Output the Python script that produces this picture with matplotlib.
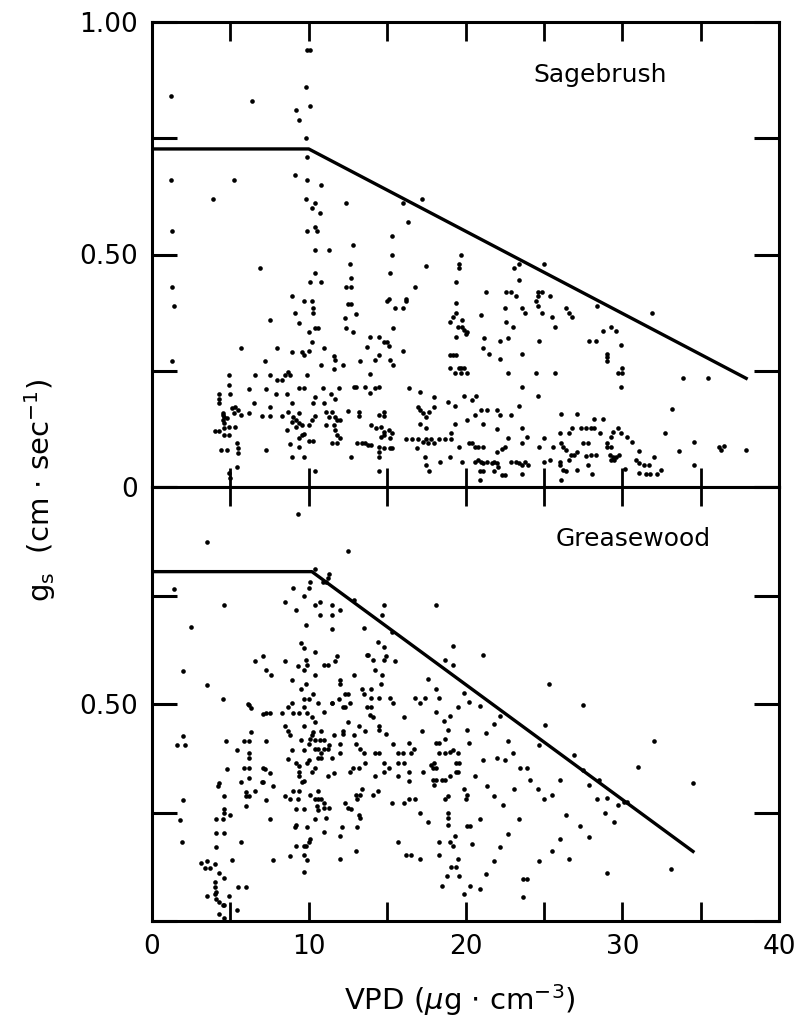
import matplotlib
matplotlib.use("Agg")
import matplotlib.pyplot as plt
import numpy as np

# ---------------- data ----------------
sage_pts = [
(1.2,0.84),(6.4,0.83),(9.9,0.94),(10.1,0.94),(9.8,0.86),(9.2,0.81),(10.1,0.82),(9.4,0.79),(9.8,0.75),(9.9,0.71),
(1.2,0.66),(5.2,0.66),(3.9,0.62),(9.1,0.67),(9.9,0.66),(10.8,0.65),(9.8,0.62),(10.4,0.61),(10.2,0.60),(10.7,0.59),
(12.4,0.61),(1.3,0.55),(9.9,0.55),(10.4,0.56),(10.5,0.55),(10.4,0.51),(11.3,0.51),(12.8,0.52),(12.6,0.48),(6.9,0.47),
(1.3,0.43),(10.4,0.46),(10.1,0.44),(10.8,0.44),(12.7,0.45),(12.4,0.43),(12.7,0.43),(8.9,0.41),(9.7,0.40),(10.2,0.40),
(15.3,0.54),(15.3,0.50),(15.2,0.46),(16.3,0.57),(17.2,0.62),(16.0,0.61),(17.5,0.475),(16.8,0.43),(19.7,0.50),(19.6,0.48),
(19.6,0.47),(19.4,0.44),(15.0,0.40),(16.2,0.40),
(25.0,0.48),(23.4,0.48),(23.1,0.47),(23.4,0.445),(21.3,0.42),(22.6,0.42),(22.9,0.42),(24.6,0.42),(24.9,0.42),(23.2,0.41),
(24.6,0.41),(25.4,0.41),
(24.5,0.40),(24.6,0.39),(24.9,0.375),(22.5,0.385),(23.6,0.385),(23.8,0.375),(25.5,0.365),(25.7,0.345),(26.4,0.385),
(26.6,0.375),(26.8,0.365),(28.4,0.39),(31.9,0.375),(21.0,0.37),(19.8,0.36),(19.8,0.345),(20.0,0.33),(22.6,0.355),(23.0,0.345),
(21.2,0.32),(22.7,0.32),(22.2,0.315),(21.1,0.30),(24.7,0.315),(28.8,0.335),(29.3,0.345),(29.6,0.335),(27.9,0.315),(28.3,0.315),
(29.9,0.305),(29.0,0.285),(29.0,0.28),(29.0,0.27),(21.5,0.285),(22.2,0.275),(23.6,0.285),(19.7,0.255),(19.9,0.255),(19.7,0.245),
(20.1,0.245),(22.7,0.245),(24.5,0.245),(25.7,0.245),(29.7,0.245),(30.0,0.245),(30.0,0.255),(29.9,0.215),(33.9,0.235),(35.5,0.235),
(23.6,0.215),(24.6,0.195),(19.9,0.195),(20.4,0.187),(20.7,0.195),(23.4,0.175),(33.2,0.167),(20.6,0.155),(21.0,0.165),(21.4,0.165),
(22.0,0.165),(22.2,0.155),(22.9,0.155),(20.1,0.145),(21.1,0.135),(22.0,0.125),(23.6,0.127),(26.1,0.157),(27.1,0.157),(28.2,0.146),
(28.8,0.146),(26.8,0.127),(27.4,0.127),(27.7,0.127),(28.0,0.127),(28.2,0.127),(29.7,0.127),(26.0,0.116),(26.6,0.116),(28.6,0.116),
(29.4,0.118),(29.9,0.116),(32.7,0.116),(22.7,0.105),(23.9,0.107),(25.0,0.105),(29.3,0.107),(30.3,0.107),(30.6,0.097),(20.4,0.095),
(23.6,0.095),(27.5,0.095),(27.8,0.095),(26.1,0.095),(26.2,0.086),(26.4,0.08),(29.0,0.095),(29.0,0.086),(29.3,0.086),(34.6,0.097),
(19.6,0.086),(20.6,0.086),(20.8,0.086),(21.1,0.086),(22.0,0.075),(22.3,0.082),(22.5,0.086),(24.7,0.086),(25.6,0.086),(36.2,0.086),
(36.5,0.088),(36.3,0.08),(37.9,0.08),(33.6,0.077),(27.1,0.075),(26.9,0.069),(26.7,0.069),(27.7,0.067),(28.0,0.069),(28.3,0.069),
(29.2,0.069),(29.4,0.065),(29.6,0.065),(29.8,0.069),(29.3,0.058),(29.5,0.058),(31.1,0.077),(30.9,0.058),(31.1,0.052),(31.4,0.047),
(31.7,0.047),(32.0,0.065),(31.1,0.03),(31.5,0.028),(31.8,0.028),(32.2,0.028),(32.5,0.037),(34.6,0.047),(19.8,0.054),(20.6,0.054),
(20.8,0.058),(21.0,0.054),(21.1,0.052),(20.9,0.034),(21.1,0.034),(20.9,0.015),(21.4,0.054),(21.7,0.052),(21.8,0.054),(22.0,0.052),
(22.1,0.043),(21.8,0.034),(22.3,0.026),(22.5,0.026),(22.9,0.054),(23.2,0.054),(23.4,0.052),(23.6,0.047),(23.8,0.054),(24.0,0.047),
(23.6,0.028),(25.0,0.054),(25.4,0.058),(26.0,0.054),(26.0,0.047),(26.2,0.037),(26.4,0.034),(26.6,0.058),(27.1,0.037),(27.8,0.047),
(28.1,0.028),(26.1,0.015),(30.2,0.039),
(1.4,0.39),(1.3,0.27),(5.7,0.30),(4.9,0.24),(4.9,0.22),(5.0,0.20),(4.3,0.20),(4.3,0.19),(4.3,0.18),(4.5,0.16),
(4.5,0.155),(4.6,0.15),(4.5,0.144),(4.8,0.148),(4.6,0.138),(4.9,0.13),(4.6,0.127),(5.1,0.17),(5.3,0.172),(5.5,0.165),
(5.2,0.16),(4.0,0.12),(4.3,0.12),(4.6,0.112),(4.9,0.112),(5.3,0.13),(5.7,0.155),(4.4,0.08),(4.8,0.08),(5.4,0.095),
(5.5,0.084),(5.5,0.073),(5.4,0.043),(4.9,0.03),(5.0,0.02),(6.2,0.21),(6.2,0.16),(6.5,0.18),(6.6,0.24),(7.3,0.21),
(7.0,0.153),(7.2,0.27),(7.3,0.08),(7.5,0.36),(7.5,0.24),(7.5,0.172),(7.5,0.153),(7.9,0.20),(8.0,0.30),(8.0,0.23),
(8.3,0.23),(8.5,0.24),(8.7,0.247),(8.8,0.24),(8.3,0.153),(8.6,0.20),(8.9,0.29),(8.9,0.18),(9.1,0.374),(9.4,0.353),
(9.6,0.29),(9.7,0.284),(10.3,0.385),(10.3,0.374),(10.0,0.333),(10.4,0.342),(10.6,0.342),(10.2,0.312),(10.0,0.292),(9.4,0.213),
(9.7,0.213),(9.9,0.24),(8.7,0.161),(9.0,0.151),(8.9,0.14),(9.2,0.144),(9.4,0.159),(9.4,0.138),(9.2,0.129),(9.6,0.133),
(10.0,0.133),(10.2,0.144),(8.6,0.123),(8.8,0.092),(9.4,0.086),(9.4,0.105),(8.9,0.064),(9.7,0.064),(9.6,0.112),(9.7,0.114),
(10.0,0.10),(10.3,0.10),(10.4,0.194),(10.3,0.18),(10.4,0.153),(10.4,0.034),(11.0,0.30),(10.8,0.262),(10.9,0.213),(11.0,0.18),
(11.1,0.161),(11.3,0.151),(11.5,0.161),(11.7,0.151),(11.1,0.133),(11.6,0.133),(11.8,0.144),(12.0,0.144),(11.7,0.123),(11.8,0.112),
(11.5,0.095),(11.8,0.095),(12.0,0.105),(11.4,0.20),(11.7,0.19),(11.6,0.282),(11.7,0.273),(11.6,0.254),(11.9,0.213),(12.2,0.262),
(12.5,0.394),(12.7,0.394),(12.3,0.363),(12.4,0.342),(12.8,0.333),(13.0,0.372),(12.5,0.163),(12.7,0.064),(12.9,0.215),(13.0,0.215),
(13.2,0.161),(13.2,0.153),(13.1,0.095),(13.4,0.095),(13.6,0.095),(13.8,0.09),(13.3,0.271),(13.6,0.215),(13.9,0.202),(14.2,0.213),
(14.5,0.215),(13.7,0.301),(13.9,0.243),(13.9,0.323),(14.5,0.323),(14.2,0.273),(14.5,0.284),(14.8,0.312),(15.0,0.312),(15.1,0.303),
(15.2,0.273),(15.4,0.262),(15.1,0.404),(15.5,0.385),(16.0,0.385),(15.4,0.342),(16.0,0.292),(16.2,0.404),(14.0,0.133),(14.3,0.127),
(14.6,0.129),(14.8,0.118),(15.1,0.123),(15.3,0.116),(14.8,0.112),(14.6,0.108),(15.2,0.105),(14.5,0.155),(14.8,0.161),(14.8,0.153),
(14.0,0.09),(14.5,0.086),(14.8,0.084),(15.2,0.084),(15.3,0.084),(14.5,0.075),(14.5,0.064),(14.5,0.034),(16.4,0.213),(17.1,0.204),
(18.0,0.194),(17.0,0.172),(17.1,0.165),(17.3,0.159),(17.5,0.151),(17.7,0.161),(18.0,0.172),(17.1,0.135),(17.5,0.127),(16.2,0.103),
(16.6,0.103),(17.0,0.103),(17.5,0.103),(17.8,0.103),(18.3,0.103),(18.7,0.103),(19.1,0.103),(17.3,0.097),(17.6,0.095),(18.0,0.095),
(16.9,0.084),(17.4,0.064),(17.5,0.047),(17.7,0.034),(18.4,0.054),(19.0,0.064),(19.1,0.116),(19.3,0.135),(20.2,0.095),(18.9,0.183),
(19.3,0.174),(19.0,0.284),(19.2,0.284),(19.4,0.284),(19.0,0.256),(19.3,0.245),(19.6,0.256),(19.4,0.396),(19.4,0.374),(19.2,0.366),
(19.0,0.355),(19.5,0.344),(19.9,0.338),(20.1,0.333),(19.4,0.323),
]

grease_pts = [
(9.3,0.938),(3.5,0.874),(12.5,0.853),(1.4,0.766),(4.6,0.727),(2.5,0.677),(2.0,0.576),(3.5,0.544),(4.5,0.511),(6.1,0.50),
(8.5,0.736),(9.0,0.768),(9.2,0.716),(9.7,0.748),(10.0,0.768),(10.1,0.78),(10.4,0.812),(11.3,0.80),(11.2,0.79),(10.9,0.78),
(11.1,0.78),(9.8,0.683),(10.4,0.727),(10.7,0.736),(10.7,0.704),(11.5,0.727),(11.5,0.704),(12.0,0.716),(11.5,0.672),(12.9,0.739),
(13.5,0.674),(14.8,0.727),(14.7,0.704),(15.3,0.665),(18.1,0.727),(19.2,0.633),(18.7,0.601),(19.2,0.589),(9.5,0.64),(9.7,0.628),
(10.4,0.619),(14.4,0.642),(14.8,0.631),(14.9,0.61),(14.8,0.601),(15.5,0.599),(13.7,0.612),(13.8,0.612),(14.1,0.601),(6.6,0.599),
(7.1,0.61),(7.3,0.578),(7.6,0.567),(8.5,0.599),(9.3,0.587),(9.8,0.601),(9.9,0.589),(9.7,0.578),(11.0,0.589),(11.2,0.589),
(11.8,0.61),(11.7,0.599),(10.4,0.567),(8.9,0.555),(9.5,0.534),(9.8,0.546),(10.3,0.523),(9.7,0.511),(10.0,0.511),(8.9,0.502),
(10.6,0.502),(12.0,0.555),(12.0,0.546),(12.9,0.567),(11.5,0.502),(11.9,0.511),(12.3,0.523),(12.5,0.523),(12.6,0.502),(13.4,0.534),
(13.5,0.523),(14.0,0.534),(14.0,0.514),(14.2,0.578),(14.7,0.567),(14.6,0.546),(14.5,0.514),(15.2,0.514),(16.8,0.514),(17.4,0.514),
(17.6,0.557),(18.1,0.534),(18.3,0.514),(19.9,0.525),(20.2,0.505),
(21.1,0.612),(25.3,0.546),(27.5,0.498),
(6.2,0.498),(6.3,0.49),(7.3,0.48),(7.1,0.477),(7.5,0.48),(8.3,0.48),(8.7,0.493),(9.0,0.48),(9.4,0.48),(9.7,0.493),
(9.9,0.48),(10.2,0.47),(10.4,0.459),(11.0,0.482),(11.5,0.502),(12.2,0.493),(12.3,0.493),(13.7,0.493),(14.0,0.493),(13.9,0.475),
(14.1,0.47),(15.4,0.502),(16.1,0.47),(17.1,0.502),(18.1,0.482),(18.6,0.461),(19.0,0.472),(19.5,0.493),(12.5,0.459),(13.2,0.45),
(13.6,0.438),(14.5,0.45),(14.5,0.44),(14.9,0.431),(8.5,0.45),(8.7,0.438),(8.8,0.429),(9.7,0.45),(10.3,0.436),(10.2,0.429),
(10.1,0.42),(10.0,0.408),(10.4,0.417),(10.8,0.438),(10.7,0.417),(11.0,0.417),(11.3,0.406),(11.6,0.429),(9.5,0.417),(12.2,0.438),
(12.2,0.431),(12.0,0.408),(12.9,0.429),(13.0,0.408),(13.3,0.397),(13.5,0.388),(10.4,0.397),(10.6,0.397),(11.0,0.397),(11.2,0.397),
(10.8,0.388),(8.9,0.394),(9.7,0.394),(8.7,0.374),(9.2,0.365),(9.4,0.356),(9.4,0.344),(9.4,0.333),(9.6,0.321),(9.7,0.323),
(9.9,0.365),(10.0,0.372),(10.2,0.344),(10.4,0.353),(10.6,0.376),(10.8,0.376),(11.5,0.376),(11.6,0.342),(11.2,0.333),(12.0,0.388),
(12.8,0.353),(13.2,0.353),(12.6,0.344),(13.6,0.365),(14.2,0.388),(14.5,0.388),(14.8,0.365),(14.8,0.344),(15.1,0.353),(14.2,0.333),
(15.4,0.408),(15.7,0.388),(16.0,0.388),(16.5,0.388),(16.7,0.397),(16.4,0.41),(15.7,0.365),(16.1,0.365),(15.7,0.335),(16.4,0.323),
(16.4,0.344),(17.3,0.344),(17.2,0.438),(17.8,0.36),(18.0,0.365),(18.1,0.353),(17.9,0.353),(17.9,0.326),(18.1,0.326),(18.5,0.326),
(18.7,0.326),(18.0,0.314),(18.1,0.41),(18.3,0.41),(18.3,0.388),(18.7,0.388),(19.0,0.39),(19.2,0.394),(19.5,0.388),(18.7,0.42),
(18.9,0.44),(20.1,0.44),(20.2,0.41),(19.4,0.365),(19.6,0.365),(19.4,0.344),(19.5,0.344),(19.0,0.333),(19.9,0.303),(20.1,0.291),
(20.0,0.282),(18.7,0.282),(18.9,0.287),(18.9,0.25),(18.9,0.238),(18.9,0.222),(20.1,0.218),(20.3,0.218),(18.3,0.183),(19.0,0.183),
(19.3,0.195),(19.2,0.172),(18.3,0.151),(19.5,0.142),(19.1,0.124),(19.4,0.124),(18.8,0.103),(19.6,0.103),(20.3,0.08),(18.5,0.08),
(19.9,0.062),(17.6,0.227),(17.1,0.248),(16.8,0.282),(16.4,0.28),(16.1,0.271),(15.3,0.271),(15.7,0.183),(16.2,0.151),(16.5,0.151),
(17.1,0.144),(13.1,0.282),(13.3,0.291),(13.0,0.291),(13.4,0.303),(14.1,0.291),(14.4,0.30),(12.5,0.261),(12.7,0.257),(12.3,0.271),
(13.2,0.245),(13.3,0.238),(13.1,0.216),(13.0,0.161),(12.1,0.216),(12.0,0.195),(12.0,0.142),(11.0,0.204),(11.1,0.238),(10.4,0.236),
(10.4,0.28),(10.6,0.28),(10.8,0.28),(11.0,0.273),(11.3,0.261),(10.5,0.264),(11.0,0.261),(10.6,0.255),(10.6,0.30),(10.1,0.291),
(9.7,0.257),(9.2,0.257),(9.3,0.28),(9.4,0.30),(9.0,0.30),(8.8,0.28),(8.5,0.287),(9.9,0.216),(9.2,0.222),(9.1,0.216),
(10.1,0.188),(10.0,0.183),(9.7,0.172),(9.8,0.172),(9.2,0.172),(8.8,0.149),(9.7,0.151),(9.9,0.14),(9.7,0.112),(7.7,0.14),
(7.5,0.236),(7.3,0.278),(7.7,0.31),(7.5,0.342),(7.1,0.353),(7.2,0.351),(7.0,0.321),(7.1,0.321),(6.6,0.30),(7.3,0.415),
(5.9,0.415),(6.2,0.415),(6.3,0.436),(6.2,0.388),(6.2,0.376),(5.9,0.353),(6.2,0.353),(6.2,0.33),(5.7,0.321),(6.0,0.298),
(6.0,0.287),(6.2,0.287),(6.0,0.266),(5.4,0.394),(4.7,0.415),(4.8,0.351),(4.3,0.319),(4.2,0.31),(4.6,0.287),(4.6,0.257),
(4.6,0.25),(5.0,0.245),(4.1,0.234),(4.5,0.234),(4.1,0.202),(4.6,0.202),(4.1,0.17),(5.7,0.181),(5.1,0.14),(2.0,0.427),
(1.6,0.406),(2.1,0.406),(2.0,0.278),(1.8,0.232),(1.9,0.181),(3.1,0.133),(3.5,0.138),(3.4,0.122),(3.7,0.122),(4.0,0.131),
(4.3,0.11),(4.6,0.099),(4.0,0.089),(4.0,0.078),(4.1,0.067),(4.0,0.062),(4.1,0.05),(4.3,0.044),(4.5,0.037),(4.6,0.037),
(3.5,0.057),(4.9,0.057),(5.5,0.078),(6.0,0.078),(5.4,0.025),(4.3,0.016),(4.6,0.007),
(32.0,0.415),(31.0,0.355),(34.5,0.317),(29.0,0.11),(33.1,0.12),(29.0,0.284),(28.9,0.25),(29.5,0.227),(29.7,0.268),(30.1,0.275),
(30.3,0.275),(28.5,0.326),
(20.9,0.495),(21.8,0.454),(22.2,0.472),(21.3,0.433),(22.7,0.415),(23.0,0.388),(22.0,0.376),(22.5,0.372),(23.5,0.353),(23.9,0.353),
(21.1,0.372),(20.6,0.335),(21.4,0.312),(21.8,0.287),(22.4,0.268),(23.1,0.303),(24.1,0.326),(24.6,0.303),(25.0,0.28),(25.5,0.291),
(26.0,0.326),(25.1,0.452),(24.7,0.406),(26.9,0.383),(27.5,0.349),(27.9,0.314),(28.4,0.28),(26.4,0.245),(27.3,0.22),(27.9,0.193),
(23.4,0.234),(22.7,0.2),(22.2,0.17),(21.8,0.138),(21.3,0.108),(20.9,0.073),(23.7,0.096),(23.9,0.096),(23.7,0.055),(24.7,0.138),
(25.5,0.161),(26.0,0.188),(26.6,0.142),(20.9,0.234),(20.4,0.177),
]

sage_x = [p[0] for p in sage_pts]
sage_y = [p[1] for p in sage_pts]
grease_x = [p[0] for p in grease_pts]
grease_y = [p[1] for p in grease_pts]

# boundary lines (VPD, g_s)
sage_line_x = [0, 10.0, 38.0]
sage_line_y = [0.727, 0.727, 0.232]
grease_line_x = [0, 10.2, 34.6]
grease_line_y = [0.805, 0.805, 0.158]

panel_names = ["Sagebrush", "Greasewood"]
x_ticklabels = {0: "0", 10: "10", 20: "20", 30: "30", 40: "40"}

# ---------------- figure ----------------
plt.rcParams['font.family'] = ['DejaVu Sans']
W, H = 801, 1036
fig = plt.figure(figsize=(W / 100, H / 100), dpi=100)

left = 152 / W
width = (779 - 152) / W
ax1 = fig.add_axes([left, 1 - 487 / H, width, (487 - 22) / H])
ax2 = fig.add_axes([left, 1 - 921 / H, width, (921 - 487) / H])

for ax in (ax1, ax2):
    ax.set_xlim(0, 40)
    ax.set_ylim(0, 1.0)
    for s in ax.spines.values():
        s.set_linewidth(2.2)
    ax.set_xticks(np.arange(0, 41, 5))
    ax.set_yticks([0, 0.25, 0.5, 0.75, 1.0])
    ax.tick_params(axis='x', direction='in', length=14, width=2.0,
                   top=True, labelsize=19, pad=9)
    ax.tick_params(axis='y', direction='in', length=18, width=2.2,
                   right=True, labelsize=19, pad=10)

ax1.scatter(sage_x, sage_y, s=11, c='black', linewidths=0)
ax1.plot(sage_line_x, sage_line_y, color='black', lw=2.4, solid_capstyle='butt')
ax2.scatter(grease_x, grease_y, s=11, c='black', linewidths=0)
ax2.plot(grease_line_x, grease_line_y, color='black', lw=2.4, solid_capstyle='butt')

ax1.set_xticklabels([])
ax1.set_yticklabels(["0", "", "0.50", "", "1.00"])
ax2.set_yticklabels(["", "", "0.50", "", ""])
ax2.set_xticklabels([x_ticklabels.get(int(v), "") for v in np.arange(0, 41, 5)])

ax1.text(0.714, 0.886, panel_names[0], transform=ax1.transAxes, ha='center', va='center', fontsize=18)
ax2.text(0.767, 0.88, panel_names[1], transform=ax2.transAxes, ha='center', va='center', fontsize=18)

fig.text(0.574, 1 - 1000 / H, r"VPD ($\mu$g $\cdot$ cm$^{-3}$)", ha='center', va='center', fontsize=21)
fig.text(40 / W, 1 - 490 / H, r"g$_\mathregular{s}$  (cm $\cdot$ sec$^{-1}$)", ha='center', va='center',
         rotation=90, fontsize=21)

fig.savefig("out.png", dpi=100)
